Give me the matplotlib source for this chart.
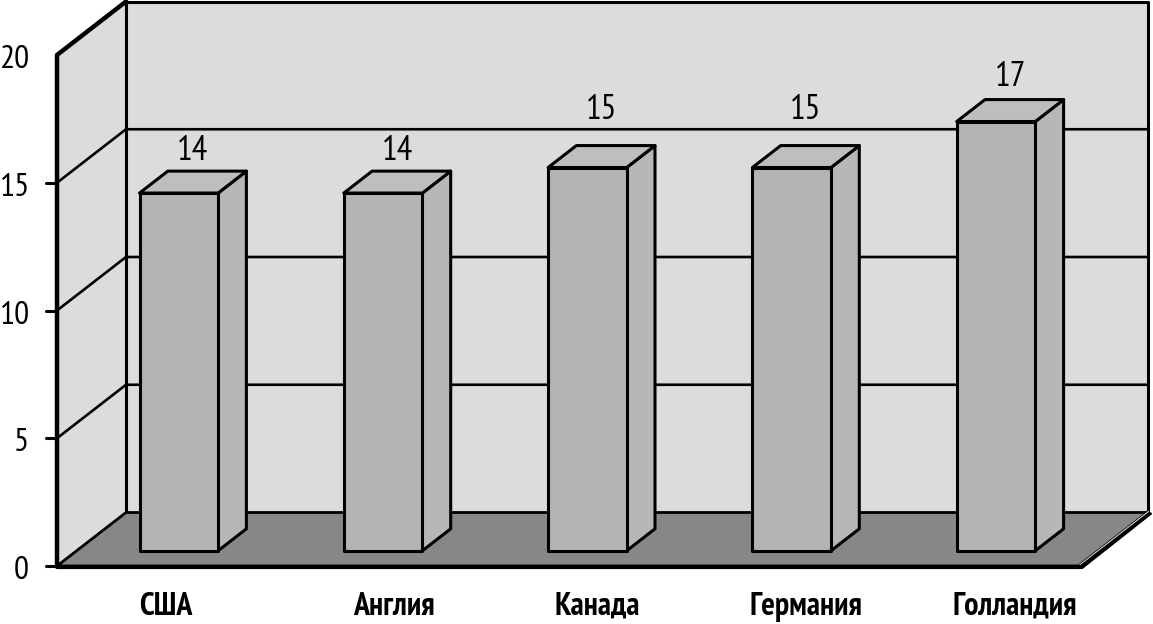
import matplotlib
matplotlib.use("Agg")
import matplotlib.pyplot as plt
from matplotlib.patches import Polygon
from matplotlib import font_manager

# ---- data ----
categories = ["США", "Англия", "Канада", "Германия", "Голландия"]
values = [14, 14, 15, 15, 16.8]
yticks = [0, 5, 10, 15, 20]
ymax = 20

# ---- font ----
avail = {f.name for f in font_manager.fontManager.ttflist}
FONT = "DejaVu Sans"
for cand in ["PT Sans Narrow", "Fira Sans Condensed", "Roboto Condensed",
             "IBM Plex Sans Condensed", "Liberation Sans Narrow"]:
    if cand in avail:
        FONT = cand
        break

# ---- geometry (pixel space of a 1153x624 canvas) ----
W, H = 1153, 624
X0, Y0 = 57.0, 566.0        # front-left-bottom corner
CW = 204.3                  # pixels per category on the front plane
VS = 25.55                  # pixels per value unit
DX, DY = 69.0, 53.5         # full depth offset
BAR_W = 1 / 2.6             # gap width 160%
D0, D1 = 0.285, 0.695       # bar depth range


def P(c, v, d):
    return (X0 + CW * c + DX * d, Y0 - VS * v - DY * d)


fig = plt.figure(figsize=(W / 100, H / 100), dpi=100)
ax = fig.add_axes([0, 0, 1, 1])
ax.set_xlim(0, W)
ax.set_ylim(H, 0)
ax.axis("off")

ncat = len(categories)
WALL = "#dcdcdc"
FLOOR = "#878787"
LK = dict(color="black", solid_capstyle="round", solid_joinstyle="round")

# back wall
ax.add_patch(Polygon([P(0, 0, 1), P(ncat, 0, 1), P(ncat, ymax, 1), P(0, ymax, 1)],
                     closed=True, fc=WALL, ec="none", zorder=1))
# left wall
ax.add_patch(Polygon([P(0, 0, 0), P(0, ymax, 0), P(0, ymax, 1), P(0, 0, 1)],
                     closed=True, fc=WALL, ec="none", zorder=1))

# gridlines on back and left walls
for t in yticks[1:-1]:
    xs, ys = zip(P(0, t, 0), P(0, t, 1), P(ncat, t, 1))
    ax.plot(xs, ys, lw=1.9, zorder=2, **LK)

# back wall outline
xs, ys = zip(P(0, 0, 1), P(0, ymax, 1), P(ncat, ymax, 1), P(ncat, 0, 1))
ax.plot(xs, ys, lw=2.2, zorder=2, **LK)

# floor
ax.add_patch(Polygon([P(0, 0, 0), P(ncat, 0, 0), P(ncat, 0, 1), P(0, 0, 1)],
                     closed=True, fc=FLOOR, ec="black", lw=2.0, zorder=3))
# floor slab edge (double line on the right side)
fx, fy = P(ncat, 0, 0)
bx, by = P(ncat, 0, 1)
ax.add_patch(Polygon([(fx, fy), (bx, by), (bx + 4, by + 1), (fx + 4, fy + 2), (fx + 1, fy + 2)],
                     closed=True, fc="black", ec="black", lw=1.2, zorder=3))
ax.plot([fx + 1, bx + 1], [fy - 1, by - 1], lw=0.7, color="#e8e8e8", zorder=4)
ax.plot([P(0, 0, 0)[0], fx + 2], [fy + 1, fy + 1], lw=3.0, zorder=4, **LK)

# left axis (front) and top slant edge
xs, ys = zip(P(0, 0, 0), P(0, ymax, 0), P(0, ymax, 1))
ax.plot(xs, ys, lw=3.2, zorder=5, **LK)

# ticks and tick labels
for t in yticks:
    x, y = P(0, t, 0)
    if t < ymax:
        ax.plot([x - 11, x], [y, y], lw=2.2, zorder=5, **LK)
    ax.text(29, y + 13, str(t), ha="right", va="baseline", fontsize=24,
            family=FONT, color="black", zorder=6)

# bars
FRONT = "#b3b3b3"
TOP = "#bebebe"
SIDE = "#b7b7b7"
label_lift = [11, 11, 27, 27, 14]
for i, v in enumerate(values):
    cl = i + 0.5 - BAR_W / 2
    cr = i + 0.5 + BAR_W / 2
    front = [P(cl, 0, D0), P(cr, 0, D0), P(cr, v, D0), P(cl, v, D0)]
    side = [P(cr, 0, D0), P(cr, 0, D1), P(cr, v, D1), P(cr, v, D0)]
    top = [P(cl, v, D0), P(cr, v, D0), P(cr, v, D1), P(cl, v, D1)]
    for poly, fc in ((side, SIDE), (top, TOP), (front, FRONT)):
        ax.add_patch(Polygon(poly, closed=True, fc=fc, ec="black", lw=2.2,
                             joinstyle="round", zorder=7))
    lx, _ = P(i + 0.5, v, (D0 + D1) / 2)
    _, ly = P(i + 0.5, v, D1)
    ax.text(lx, ly - label_lift[i], f"{v:.0f}", ha="center", va="baseline", fontsize=25,
            family=FONT, color="black", zorder=8)

# category labels
label_shift = [7, 30, 30, 34, 38]
for i, name in enumerate(categories):
    x, y = P(i + 0.5, 0, 0)
    ax.text(x + label_shift[i], 615, name, ha="center", va="baseline", fontsize=23,
            family=FONT, fontweight="bold", color="black", zorder=8)

fig.savefig("out.png", dpi=100)
